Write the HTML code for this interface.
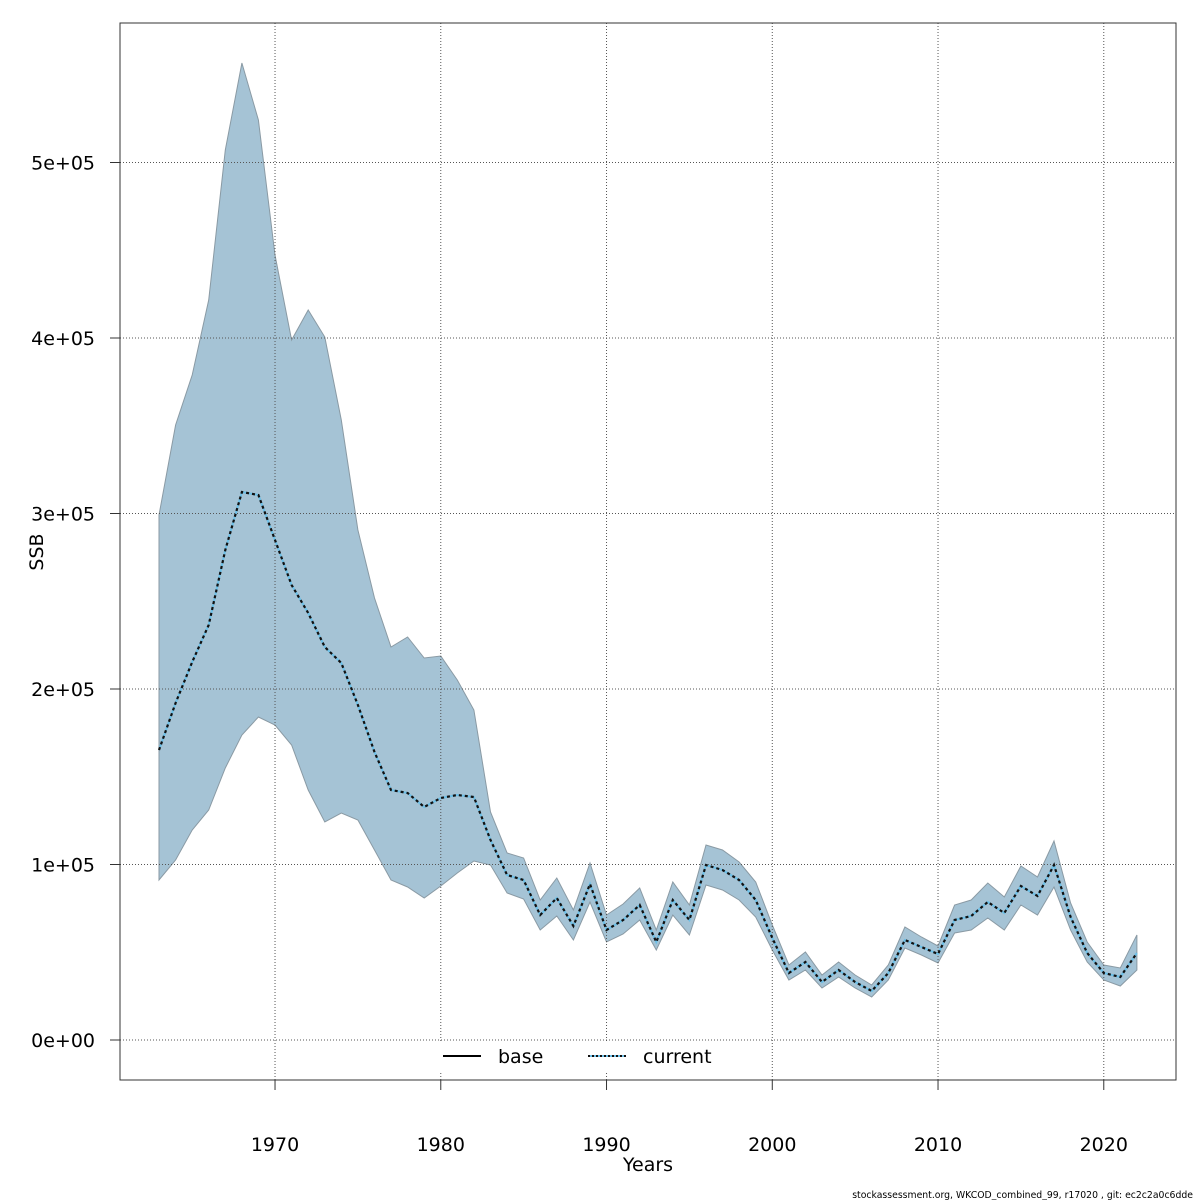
<!DOCTYPE html>
<html><head><meta charset="utf-8"><style>
body{margin:0;background:#fff}
svg{display:block;font-family:"DejaVu Sans","Liberation Sans",sans-serif}
</style></head><body>
<svg id="s" width="1200" height="1200" xmlns="http://www.w3.org/2000/svg">
<rect width="1200" height="1200" fill="#fff"/>
<polygon id="band" fill="#a5c3d5" stroke="#8a9aa4" stroke-width="1"/>
<g id="grid" stroke="#555" stroke-width="1" stroke-dasharray="1,2"></g>
<polyline id="mid1" fill="none" stroke="#6cc0e8" stroke-width="2"/>
<polyline id="mid2" fill="none" stroke="#111" stroke-width="2.2" stroke-dasharray="3,3"/>
<rect x="120" y="23" width="1056" height="1057" fill="none" stroke="#333" stroke-width="1"/>
<rect x="432" y="1043" width="300" height="30" fill="#fff"/>
<line x1="443" y1="1056" x2="481" y2="1056" stroke="#000" stroke-width="2"/>
<text x="498" y="1063" font-size="19">base</text>
<line x1="588" y1="1056" x2="626" y2="1056" stroke="#6cc0e8" stroke-width="2"/>
<line x1="588" y1="1056" x2="626" y2="1056" stroke="#111" stroke-width="2" stroke-dasharray="2,2"/>
<text x="643" y="1063" font-size="19">current</text>
<g id="ticks" stroke="#333" stroke-width="1"></g>
<g id="labels" font-size="19"></g>
<text x="648" y="1171" font-size="19" text-anchor="middle">Years</text>
<text transform="translate(43,552) rotate(-90)" font-size="19" text-anchor="middle">SSB</text>
<text x="1193" y="1198" font-size="9.3" text-anchor="end">stockassessment.org, WKCOD_combined_99, r17020 , git: ec2c2a0c6dde</text>
</svg>
<script>
const up=[515,425,375,300,150,63,120,255,340,310,337,420,530,598,647,637,658,656,680,710,812,853,858,900,878,910,863,915,904,888,930,882,905,845,850,862,882,925,965,952,975,962,975,985,965,927,937,946,905,900,883,897,866,877,841,903,942,965,968,935];
const lo=[880,860,830,810,768,735,717,725,745,790,822,813,820,850,880,887,898,886,873,861,865,893,899,930,916,940,902,942,934,920,950,915,935,885,890,900,917,950,980,970,988,977,988,997,980,948,955,963,933,930,918,930,905,915,887,930,962,980,986,970];
const md=[750,703,662,625,550,492,495,540,585,613,647,663,705,752,790,793,807,798,795,797,840,875,880,915,898,926,884,930,920,905,942,900,920,865,870,880,900,938,973,962,982,970,982,991,973,940,947,954,920,916,902,913,886,896,865,917,953,973,977,953];
const X=y=>159+(y-1963)*16.575;
let pu=up.map((v,i)=>X(1963+i).toFixed(1)+","+v);
let pl=lo.map((v,i)=>X(1963+i).toFixed(1)+","+v).reverse();
document.getElementById('band').setAttribute('points',pu.concat(pl).join(' '));
let pm=md.map((v,i)=>X(1963+i).toFixed(1)+","+v).join(' ');
document.getElementById('mid1').setAttribute('points',pm);
document.getElementById('mid2').setAttribute('points',pm);
const ns="http://www.w3.org/2000/svg";
function el(p,t,a,txt){const e=document.createElementNS(ns,t);for(const k in a)e.setAttribute(k,a[k]);if(txt)e.textContent=txt;document.getElementById(p).appendChild(e);}
for(let y=1970;y<=2020;y+=10){const x=X(y);
el('grid','line',{x1:x,y1:23,x2:x,y2:1080});
el('ticks','line',{x1:x,y1:1080,x2:x,y2:1090});
el('labels','text',{x:x,y:1151,'text-anchor':'middle'},String(y));}
const yl=["0e+00","1e+05","2e+05","3e+05","4e+05","5e+05"];
for(let i=0;i<6;i++){const y=1040-i*175.5;
el('grid','line',{x1:120,y1:y,x2:1176,y2:y});
el('ticks','line',{x1:110,y1:y,x2:120,y2:y});
el('labels','text',{x:95,y:y+7,'text-anchor':'end'},yl[i]);}
</script>
</body></html>
